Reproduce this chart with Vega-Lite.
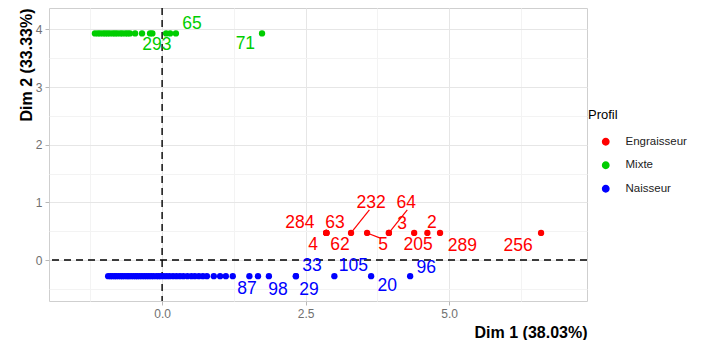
{
  "$schema": "https://vega.github.io/schema/vega-lite/v6.json",
  "width": 538,
  "height": 293,
  "autosize": "none",
  "padding": {"left": 49, "top": 8, "right": 117, "bottom": 39},
  "background": "white",
  "config": {
    "font": "Liberation Sans",
    "view": {"stroke": "#cfcfcf", "strokeWidth": 1}
  },
  "data": {"values": [{}]},
  "datasets": {
    "points": [
      {"id": null, "profil": "Mixte", "dim1": -1.17, "dim2": 3.93},
      {"id": null, "profil": "Mixte", "dim1": -1.12, "dim2": 3.93},
      {"id": null, "profil": "Mixte", "dim1": -1.08, "dim2": 3.93},
      {"id": null, "profil": "Mixte", "dim1": -1.03, "dim2": 3.93},
      {"id": null, "profil": "Mixte", "dim1": -0.99, "dim2": 3.93},
      {"id": null, "profil": "Mixte", "dim1": -0.95, "dim2": 3.93},
      {"id": null, "profil": "Mixte", "dim1": -0.91, "dim2": 3.93},
      {"id": null, "profil": "Mixte", "dim1": -0.86, "dim2": 3.93},
      {"id": null, "profil": "Mixte", "dim1": -0.82, "dim2": 3.93},
      {"id": null, "profil": "Mixte", "dim1": -0.78, "dim2": 3.93},
      {"id": null, "profil": "Mixte", "dim1": -0.73, "dim2": 3.93},
      {"id": null, "profil": "Mixte", "dim1": -0.69, "dim2": 3.93},
      {"id": null, "profil": "Mixte", "dim1": -0.64, "dim2": 3.93},
      {"id": null, "profil": "Mixte", "dim1": -0.60, "dim2": 3.93},
      {"id": null, "profil": "Mixte", "dim1": -0.56, "dim2": 3.93},
      {"id": null, "profil": "Mixte", "dim1": -0.47, "dim2": 3.93},
      {"id": null, "profil": "Mixte", "dim1": -0.35, "dim2": 3.93},
      {"id": null, "profil": "Mixte", "dim1": -0.21, "dim2": 3.93},
      {"id": "293", "profil": "Mixte", "dim1": -0.17, "dim2": 3.93},
      {"id": null, "profil": "Mixte", "dim1": 0.07, "dim2": 3.93},
      {"id": null, "profil": "Mixte", "dim1": 0.14, "dim2": 3.93},
      {"id": "65", "profil": "Mixte", "dim1": 0.24, "dim2": 3.93},
      {"id": "71", "profil": "Mixte", "dim1": 1.74, "dim2": 3.93},
      {"id": "284", "profil": "Engraisseur", "dim1": 2.86, "dim2": 0.47},
      {"id": "63", "profil": "Engraisseur", "dim1": 2.86, "dim2": 0.47},
      {"id": "4", "profil": "Engraisseur", "dim1": 2.86, "dim2": 0.47},
      {"id": "62", "profil": "Engraisseur", "dim1": 2.86, "dim2": 0.47},
      {"id": "232", "profil": "Engraisseur", "dim1": 3.29, "dim2": 0.47},
      {"id": "5", "profil": "Engraisseur", "dim1": 3.57, "dim2": 0.47},
      {"id": "64", "profil": "Engraisseur", "dim1": 3.95, "dim2": 0.47},
      {"id": "3", "profil": "Engraisseur", "dim1": 3.95, "dim2": 0.47},
      {"id": "205", "profil": "Engraisseur", "dim1": 4.39, "dim2": 0.47},
      {"id": "2", "profil": "Engraisseur", "dim1": 4.62, "dim2": 0.47},
      {"id": "289", "profil": "Engraisseur", "dim1": 4.84, "dim2": 0.47},
      {"id": "256", "profil": "Engraisseur", "dim1": 6.60, "dim2": 0.47},
      {"id": null, "profil": "Naisseur", "dim1": -0.94, "dim2": -0.28},
      {"id": null, "profil": "Naisseur", "dim1": -0.90, "dim2": -0.28},
      {"id": null, "profil": "Naisseur", "dim1": -0.87, "dim2": -0.28},
      {"id": null, "profil": "Naisseur", "dim1": -0.83, "dim2": -0.28},
      {"id": null, "profil": "Naisseur", "dim1": -0.80, "dim2": -0.28},
      {"id": null, "profil": "Naisseur", "dim1": -0.76, "dim2": -0.28},
      {"id": null, "profil": "Naisseur", "dim1": -0.72, "dim2": -0.28},
      {"id": null, "profil": "Naisseur", "dim1": -0.69, "dim2": -0.28},
      {"id": null, "profil": "Naisseur", "dim1": -0.65, "dim2": -0.28},
      {"id": null, "profil": "Naisseur", "dim1": -0.61, "dim2": -0.28},
      {"id": null, "profil": "Naisseur", "dim1": -0.58, "dim2": -0.28},
      {"id": null, "profil": "Naisseur", "dim1": -0.54, "dim2": -0.28},
      {"id": null, "profil": "Naisseur", "dim1": -0.50, "dim2": -0.28},
      {"id": null, "profil": "Naisseur", "dim1": -0.46, "dim2": -0.28},
      {"id": null, "profil": "Naisseur", "dim1": -0.43, "dim2": -0.28},
      {"id": null, "profil": "Naisseur", "dim1": -0.39, "dim2": -0.28},
      {"id": null, "profil": "Naisseur", "dim1": -0.35, "dim2": -0.28},
      {"id": null, "profil": "Naisseur", "dim1": -0.31, "dim2": -0.28},
      {"id": null, "profil": "Naisseur", "dim1": -0.27, "dim2": -0.28},
      {"id": null, "profil": "Naisseur", "dim1": -0.23, "dim2": -0.28},
      {"id": null, "profil": "Naisseur", "dim1": -0.19, "dim2": -0.28},
      {"id": null, "profil": "Naisseur", "dim1": -0.15, "dim2": -0.28},
      {"id": null, "profil": "Naisseur", "dim1": -0.10, "dim2": -0.28},
      {"id": null, "profil": "Naisseur", "dim1": -0.06, "dim2": -0.28},
      {"id": null, "profil": "Naisseur", "dim1": -0.02, "dim2": -0.28},
      {"id": null, "profil": "Naisseur", "dim1": 0.03, "dim2": -0.28},
      {"id": null, "profil": "Naisseur", "dim1": 0.08, "dim2": -0.28},
      {"id": null, "profil": "Naisseur", "dim1": 0.13, "dim2": -0.28},
      {"id": null, "profil": "Naisseur", "dim1": 0.19, "dim2": -0.28},
      {"id": null, "profil": "Naisseur", "dim1": 0.25, "dim2": -0.28},
      {"id": null, "profil": "Naisseur", "dim1": 0.31, "dim2": -0.28},
      {"id": null, "profil": "Naisseur", "dim1": 0.37, "dim2": -0.28},
      {"id": null, "profil": "Naisseur", "dim1": 0.44, "dim2": -0.28},
      {"id": null, "profil": "Naisseur", "dim1": 0.51, "dim2": -0.28},
      {"id": null, "profil": "Naisseur", "dim1": 0.57, "dim2": -0.28},
      {"id": null, "profil": "Naisseur", "dim1": 0.64, "dim2": -0.28},
      {"id": null, "profil": "Naisseur", "dim1": 0.71, "dim2": -0.28},
      {"id": null, "profil": "Naisseur", "dim1": 0.78, "dim2": -0.28},
      {"id": null, "profil": "Naisseur", "dim1": 0.90, "dim2": -0.28},
      {"id": null, "profil": "Naisseur", "dim1": 1.01, "dim2": -0.28},
      {"id": null, "profil": "Naisseur", "dim1": 1.11, "dim2": -0.28},
      {"id": null, "profil": "Naisseur", "dim1": 1.23, "dim2": -0.28},
      {"id": "87", "profil": "Naisseur", "dim1": 1.52, "dim2": -0.28},
      {"id": null, "profil": "Naisseur", "dim1": 1.67, "dim2": -0.28},
      {"id": "98", "profil": "Naisseur", "dim1": 1.86, "dim2": -0.28},
      {"id": "29", "profil": "Naisseur", "dim1": 2.33, "dim2": -0.28},
      {"id": "33", "profil": "Naisseur", "dim1": 2.33, "dim2": -0.28},
      {"id": "105", "profil": "Naisseur", "dim1": 3.00, "dim2": -0.28},
      {"id": "20", "profil": "Naisseur", "dim1": 3.64, "dim2": -0.28},
      {"id": "96", "profil": "Naisseur", "dim1": 4.32, "dim2": -0.28}
    ],
    "labels": [
      {"id": "65", "profil": "Mixte", "lx": 0.52, "ly": 4.09},
      {"id": "293", "profil": "Mixte", "lx": -0.09, "ly": 3.73},
      {"id": "71", "profil": "Mixte", "lx": 1.45, "ly": 3.74},
      {"id": "284", "profil": "Engraisseur", "lx": 2.40, "ly": 0.64},
      {"id": "63", "profil": "Engraisseur", "lx": 3.01, "ly": 0.64},
      {"id": "4", "profil": "Engraisseur", "lx": 2.63, "ly": 0.26},
      {"id": "62", "profil": "Engraisseur", "lx": 3.10, "ly": 0.26},
      {"id": "232", "profil": "Engraisseur", "lx": 3.64, "ly": 0.99, "ex": 3.61, "ey": 0.87},
      {"id": "64", "profil": "Engraisseur", "lx": 4.25, "ly": 0.99, "ex": 4.27, "ey": 0.87},
      {"id": "3", "profil": "Engraisseur", "lx": 4.18, "ly": 0.62},
      {"id": "5", "profil": "Engraisseur", "lx": 3.85, "ly": 0.26, "ex": 3.80, "ey": 0.38},
      {"id": "205", "profil": "Engraisseur", "lx": 4.46, "ly": 0.26},
      {"id": "2", "profil": "Engraisseur", "lx": 4.70, "ly": 0.64},
      {"id": "289", "profil": "Engraisseur", "lx": 5.23, "ly": 0.24},
      {"id": "256", "profil": "Engraisseur", "lx": 6.20, "ly": 0.24},
      {"id": "33", "profil": "Naisseur", "lx": 2.61, "ly": -0.10},
      {"id": "105", "profil": "Naisseur", "lx": 3.33, "ly": -0.10},
      {"id": "29", "profil": "Naisseur", "lx": 2.56, "ly": -0.52},
      {"id": "20", "profil": "Naisseur", "lx": 3.92, "ly": -0.45},
      {"id": "96", "profil": "Naisseur", "lx": 4.60, "ly": -0.14},
      {"id": "98", "profil": "Naisseur", "lx": 2.02, "ly": -0.52},
      {"id": "87", "profil": "Naisseur", "lx": 1.48, "ly": -0.50}
    ]
  },
  "resolve": {"axis": {"x": "independent", "y": "independent"}},
  "layer": [
    {
      "mark": {"type": "rule", "color": "#000000", "strokeWidth": 1.4, "strokeDash": [7, 5]},
      "encoding": {
        "x": {
          "datum": 0,
          "type": "quantitative",
          "scale": {"domain": [-1.97, 7.4], "nice": false, "zero": false},
          "axis": {
            "orient": "top",
            "values": [-1.25, 1.25, 3.75, 6.25],
            "grid": true,
            "gridColor": "#f3f3f3",
            "labels": false,
            "ticks": false,
            "domain": false,
            "title": null
          }
        }
      }
    },
    {
      "mark": {"type": "rule", "color": "#000000", "strokeWidth": 1.4, "strokeDash": [7, 5]},
      "encoding": {
        "y": {
          "datum": 0,
          "type": "quantitative",
          "scale": {"domain": [-0.71, 4.37], "nice": false, "zero": false},
          "axis": {
            "orient": "right",
            "values": [-0.5, 0.5, 1.5, 2.5, 3.5],
            "grid": true,
            "gridColor": "#f3f3f3",
            "labels": false,
            "ticks": false,
            "domain": false,
            "title": null
          }
        }
      }
    },
    {
      "data": {"name": "points"},
      "mark": {"type": "point", "filled": true, "opacity": 1, "size": 40},
      "encoding": {
        "x": {
          "field": "dim1",
          "type": "quantitative",
          "scale": {"domain": [-1.97, 7.4], "nice": false, "zero": false},
          "axis": {
            "title": "Dim 1 (38.03%)",
            "values": [0, 2.5, 5],
            "format": ".1f",
            "labelOverlap": false,
            "labelFlush": false,
            "grid": true,
            "gridColor": "#e6e6e6",
            "tickSize": 4,
            "tickColor": "#b8b8b8",
            "domain": false,
            "labelColor": "#707070",
            "labelFontSize": 12,
            "labelPadding": 3,
            "titleAnchor": "end",
            "titleFontWeight": "bold",
            "titleFontSize": 16,
            "titleColor": "#000000",
            "titlePadding": 5
          }
        },
        "y": {
          "field": "dim2",
          "type": "quantitative",
          "scale": {"domain": [-0.71, 4.37], "nice": false, "zero": false},
          "axis": {
            "title": "Dim 2 (33.33%)",
            "values": [0, 1, 2, 3, 4],
            "format": "d",
            "labelOverlap": false,
            "labelFlush": false,
            "grid": true,
            "gridColor": "#e6e6e6",
            "tickSize": 4,
            "tickColor": "#b8b8b8",
            "domain": false,
            "labelColor": "#707070",
            "labelFontSize": 12,
            "labelPadding": 3,
            "titleAnchor": "end",
            "titleFontWeight": "bold",
            "titleFontSize": 16,
            "titleColor": "#000000",
            "titlePadding": 1
          }
        },
        "color": {
          "field": "profil",
          "type": "nominal",
          "scale": {"domain": ["Engraisseur", "Mixte", "Naisseur"], "range": ["#ff0000", "#00cd00", "#0000ff"]},
          "legend": {
            "title": "Profil",
            "orient": "none",
            "legendX": 539,
            "legendY": 101,
            "titleFontSize": 13,
            "titleFontWeight": "normal",
            "titleColor": "#000000",
            "titlePadding": 14,
            "labelFontSize": 11.5,
            "labelColor": "#222222",
            "symbolType": "circle",
            "symbolSize": 40,
            "symbolOffset": 12,
            "labelOffset": 14,
            "rowPadding": 10.5
          }
        }
      }
    },
    {
      "data": {"name": "labels"},
      "transform": [
        {"filter": "isValid(datum.ex)"},
        {"lookup": "id", "from": {"data": {"name": "points"}, "key": "id", "fields": ["dim1", "dim2"]}}
      ],
      "mark": {"type": "rule", "strokeWidth": 1.2},
      "encoding": {
        "x": {"field": "dim1", "type": "quantitative", "axis": null},
        "y": {"field": "dim2", "type": "quantitative", "axis": null},
        "x2": {"field": "ex"},
        "y2": {"field": "ey"},
        "color": {"field": "profil", "type": "nominal", "legend": null}
      }
    },
    {
      "data": {"name": "labels"},
      "mark": {"type": "text", "fontSize": 17.5, "align": "center", "baseline": "middle"},
      "encoding": {
        "x": {"field": "lx", "type": "quantitative", "axis": null},
        "y": {"field": "ly", "type": "quantitative", "axis": null},
        "text": {"field": "id"},
        "color": {"field": "profil", "type": "nominal", "legend": null}
      }
    }
  ]
}
